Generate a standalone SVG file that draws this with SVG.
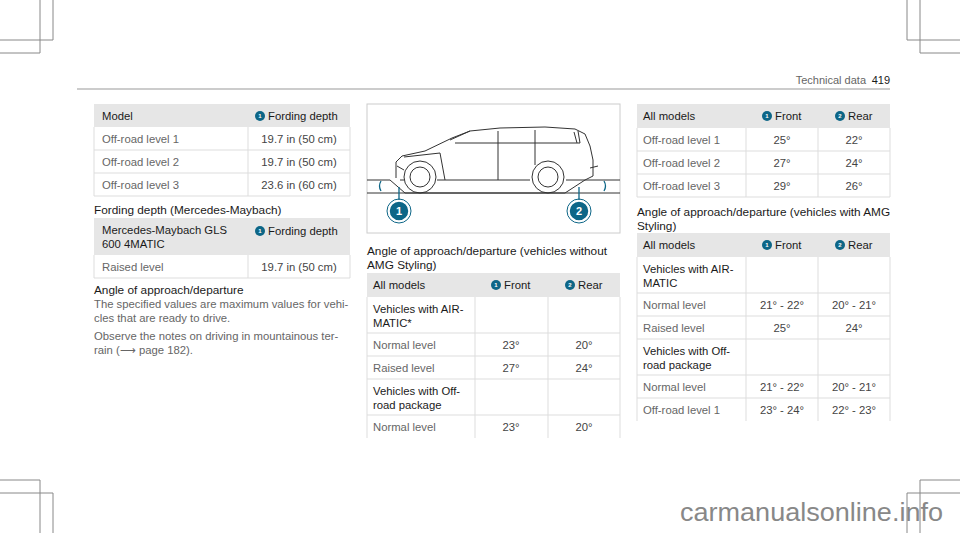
<svg xmlns="http://www.w3.org/2000/svg" width="960" height="533" viewBox="0 0 960 533">
<style>
text{font-family:"Liberation Sans",Arial,sans-serif;font-size:11.3px;fill:#444}
.h{fill:#1a1a1a}
.t{fill:#1a1a1a;font-size:11.8px}
.g{fill:#666}
.c{text-anchor:middle}
.hd{fill:#e6e6e6}
.grid{stroke:#ddd;stroke-width:1;fill:none}
.crop{stroke:#888;stroke-width:1;fill:none}
.b{fill:#0d6687}
.bt{fill:#fff;font-size:6px;font-weight:bold;text-anchor:middle}
.car{stroke:#333;stroke-width:1;fill:none}
</style>
<defs>
<g id="b1"><circle r="5" class="b"/><text y="2" class="bt">1</text></g>
<g id="b2"><circle r="5" class="b"/><text y="2" class="bt">2</text></g>
</defs>
<g id="crops" class="crop">
<path d="M40 0V53M53 0V40M0 40H53M0 53H40"/>
<path d="M920 0V53M907 0V40M960 40H907M960 53H920"/>
<path d="M40 533V480M53 533V493M0 493H53M0 480H40"/>
<path d="M920 533V480M907 533V493M960 493H907M960 480H920"/>
</g>
<g id="header">
<line x1="77" y1="89" x2="890" y2="89" stroke="#999"/>
<text x="866" y="84" text-anchor="end" class="g" style="font-size:11px">Technical data</text>
<text x="890" y="84" text-anchor="end" class="h" style="font-size:11px">419</text>
</g>
<g id="table1">
<rect x="94" y="104" width="256" height="23" class="hd"/>
<path class="grid" d="M94 127V196H350V127M94 150H350M94 173H350M248 127V196"/>
<text x="102" y="120" class="h">Model</text>
<use href="#b1" x="260" y="116"/><text x="268" y="120" class="h">Fording depth</text>
<text x="102" y="143" class="g">Off-road level 1</text><text x="299" y="143" class="c">19.7 in (50 cm)</text>
<text x="102" y="166" class="g">Off-road level 2</text><text x="299" y="166" class="c">19.7 in (50 cm)</text>
<text x="102" y="189" class="g">Off-road level 3</text><text x="299" y="189" class="c">23.6 in (60 cm)</text>
</g>
<g id="table2">
<text x="94" y="214" class="t">Fording depth (Mercedes-Maybach)</text>
<rect x="94" y="218" width="256" height="37" class="hd"/>
<path class="grid" d="M94 255V278H350V255M248 255V278"/>
<text x="102" y="234" class="h">Mercedes-Maybach GLS</text>
<text x="102" y="248" class="h">600 4MATIC</text>
<use href="#b1" x="260" y="231"/><text x="268" y="235" class="h">Fording depth</text>
<text x="102" y="271" class="g">Raised level</text><text x="299" y="271" class="c">19.7 in (50 cm)</text>
</g>
<g id="angletext">
<text x="94" y="294" class="t">Angle of approach/departure</text>
<text x="94" y="308" class="g">The specified values are maximum values for vehi-</text>
<text x="94" y="322" class="g">cles that are ready to drive.</text>
<text x="94" y="340" class="g">Observe the notes on driving in mountainous ter-</text>
<text x="94" y="354" class="g">rain (⟶ page 182).</text>
</g>
<g id="figure">
<rect x="367" y="104" width="253" height="129" fill="#fff" stroke="#ccc"/>
<path class="car" stroke-width="1.5" d="M367 180H390L405 193H565L585 180H620M367 193H620"/>
<path class="car" d="M396 178V162L402 156L425 151L452 138L470 131L500 128L545 127L575 129L585 134L590 146L593 160L593 176L585 180H566M530 180H437M400 180H404M397 166L404 170M450 140L470 131M455 143H580L578 131M498 131V180M535 130V165M574 132L577 143M404 157L440 153M440 153L445 180M590 168L598 166"/>
<circle cx="420" cy="177" r="16" class="car"/><circle cx="420" cy="177" r="10" class="car"/>
<circle cx="548" cy="177" r="16" class="car"/><circle cx="548" cy="177" r="10" class="car"/>
<path d="M381 181Q378 186 381 191M604 181Q607 186 604 191" stroke="#0d6687" stroke-width="1.3" fill="none"/>
<path d="M399 187V200M579 187V200" stroke="#0d6687" stroke-width="1.3"/>
<circle cx="399" cy="211" r="10" class="b" stroke="#fff" stroke-width="1.5"/><circle cx="399" cy="211" r="12" fill="none" stroke="#0d6687"/>
<text x="399" y="215" class="bt" style="font-size:11px">1</text>
<circle cx="579" cy="211" r="10" class="b" stroke="#fff" stroke-width="1.5"/><circle cx="579" cy="211" r="12" fill="none" stroke="#0d6687"/>
<text x="579" y="215" class="bt" style="font-size:11px">2</text>
</g>
<g id="table3">
<text x="367" y="255" class="t">Angle of approach/departure (vehicles without</text>
<text x="367" y="269" class="t">AMG Styling)</text>
<rect x="367" y="273" width="253" height="24" class="hd"/>
<path class="grid" d="M367 297V438M620 297V438M367 333H620M367 356H620M367 379H620M367 415H620M475 297V438M548 297V438"/>
<text x="373" y="289" class="h">All models</text>
<use href="#b1" x="496" y="285"/><text x="504" y="289" class="h">Front</text>
<use href="#b2" x="570" y="285"/><text x="578" y="289" class="h">Rear</text>
<text x="373" y="313" class="h">Vehicles with AIR-</text><text x="373" y="327" class="h">MATIC*</text>
<text x="373" y="349" class="g">Normal level</text><text x="511" y="349" class="c">23°</text><text x="584" y="349" class="c">20°</text>
<text x="373" y="372" class="g">Raised level</text><text x="511" y="372" class="c">27°</text><text x="584" y="372" class="c">24°</text>
<text x="373" y="395" class="h">Vehicles with Off-</text><text x="373" y="409" class="h">road package</text>
<text x="373" y="431" class="g">Normal level</text><text x="511" y="431" class="c">23°</text><text x="584" y="431" class="c">20°</text>
</g>
<g id="table4">
<rect x="637" y="104" width="253" height="24" class="hd"/>
<path class="grid" d="M637 128V197H890V128M637 151H890M637 174H890M746 128V197M818 128V197"/>
<text x="643" y="120" class="h">All models</text>
<use href="#b1" x="767" y="116"/><text x="775" y="120" class="h">Front</text>
<use href="#b2" x="840" y="116"/><text x="848" y="120" class="h">Rear</text>
<text x="643" y="144" class="g">Off-road level 1</text><text x="782" y="144" class="c">25°</text><text x="854" y="144" class="c">22°</text>
<text x="643" y="167" class="g">Off-road level 2</text><text x="782" y="167" class="c">27°</text><text x="854" y="167" class="c">24°</text>
<text x="643" y="190" class="g">Off-road level 3</text><text x="782" y="190" class="c">29°</text><text x="854" y="190" class="c">26°</text>
</g>
<g id="table5">
<text x="637" y="216" class="t">Angle of approach/departure (vehicles with AMG</text>
<text x="637" y="230" class="t">Styling)</text>
<rect x="637" y="233" width="253" height="24" class="hd"/>
<path class="grid" d="M637 257V421M890 257V421M637 293H890M637 316H890M637 339H890M637 375H890M637 398H890M746 257V421M818 257V421"/>
<text x="643" y="249" class="h">All models</text>
<use href="#b1" x="767" y="245"/><text x="775" y="249" class="h">Front</text>
<use href="#b2" x="840" y="245"/><text x="848" y="249" class="h">Rear</text>
<text x="643" y="273" class="h">Vehicles with AIR-</text><text x="643" y="287" class="h">MATIC</text>
<text x="643" y="309" class="g">Normal level</text><text x="782" y="309" class="c">21° - 22°</text><text x="854" y="309" class="c">20° - 21°</text>
<text x="643" y="332" class="g">Raised level</text><text x="782" y="332" class="c">25°</text><text x="854" y="332" class="c">24°</text>
<text x="643" y="355" class="h">Vehicles with Off-</text><text x="643" y="369" class="h">road package</text>
<text x="643" y="391" class="g">Normal level</text><text x="782" y="391" class="c">21° - 22°</text><text x="854" y="391" class="c">20° - 21°</text>
<text x="643" y="414" class="g">Off-road level 1</text><text x="782" y="414" class="c">23° - 24°</text><text x="854" y="414" class="c">22° - 23°</text>
</g>
<text x="680" y="521" style="font-size:25px;fill:#888" textLength="263" lengthAdjust="spacingAndGlyphs">carmanualsonline.info</text>
</svg>
